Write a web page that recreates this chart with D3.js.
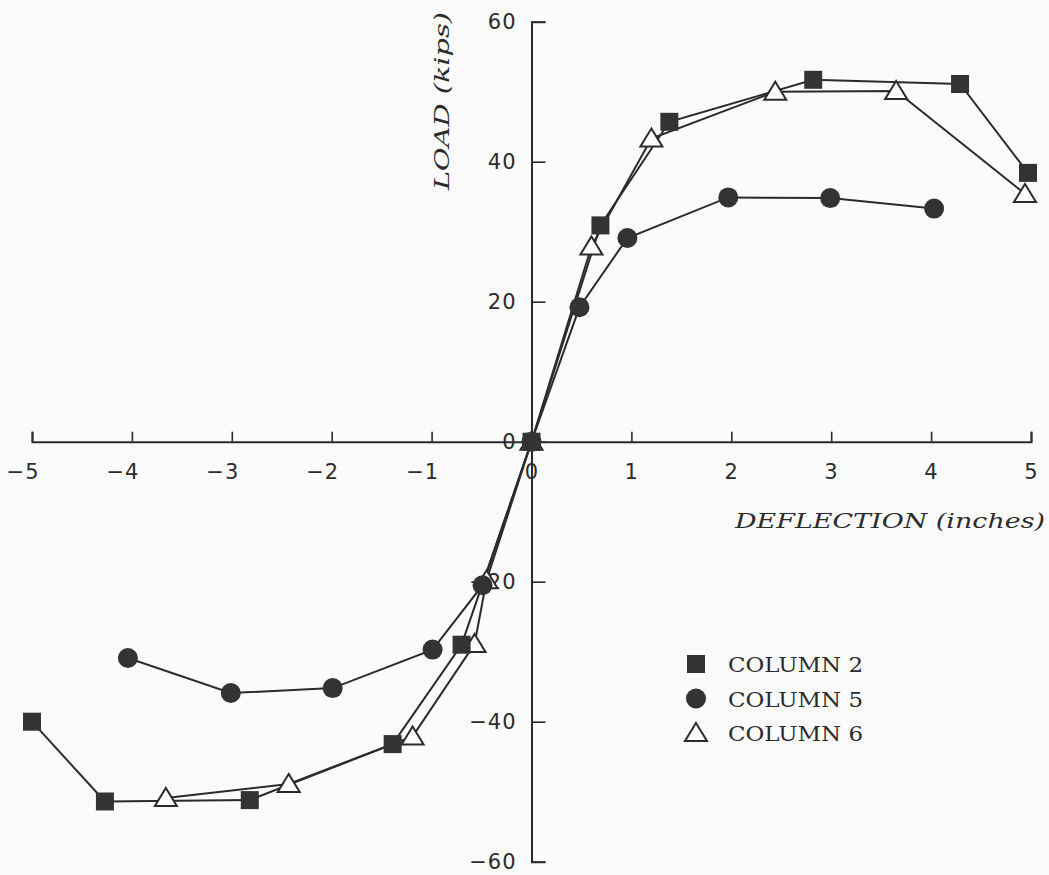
<!DOCTYPE html>
<html><head><meta charset="utf-8">
<script src="https://cdn.jsdelivr.net/npm/d3@7"></script>
<style>body{margin:0;background:#fbfbfb}svg{display:block}</style>
</head><body><svg id="c" width="1049" height="875"></svg>
<script>
const xTicks=[-5,-4,-3,-2,-1,0,1,2,3,4,5];
const yTicks=[-60,-40,-20,0,20,40,60];
const col2X=[-5.0,-4.27,-2.82,-1.39,-0.70,0,0.69,1.38,2.82,4.29,4.97];
const col2Y=[-40.0,-51.4,-51.2,-43.2,-29.0,0,30.9,45.7,51.7,51.1,38.4];
const col5X=[-4.04,-3.01,-1.99,-0.99,-0.49,0,0.48,0.96,1.97,2.99,4.03];
const col5Y=[-30.9,-35.9,-35.2,-29.7,-20.5,0,19.2,29.1,34.9,34.8,33.3];
const col6X=[-3.66,-2.43,-1.19,-0.57,-0.45,0,0.60,1.20,2.44,3.65,4.94];
const col6Y=[-50.9,-48.9,-42.1,-28.9,-19.8,0,27.9,43.3,50.0,50.1,35.4];
const seriesNames=["COLUMN 2","COLUMN 5","COLUMN 6"];
const xTitle="DEFLECTION (inches)";
const yTitle="LOAD (kips)";

const svg=d3.select("#c");
const x=d3.scaleLinear([-5,5],[32,1031]);
const y=d3.scaleLinear([-60,60],[861.7,21.7]);
const ink="#2b2b2b";
const fmt=d=>d<0?"\u2212"+Math.abs(d):String(d);

// X axis
const gx=svg.append("g").attr("transform",`translate(0,${y(0)})`)
  .call(d3.axisBottom(x).tickValues(xTicks).tickSizeInner(-10).tickSizeOuter(-10).tickPadding(22).tickFormat(fmt));
gx.select(".domain").attr("stroke",ink).attr("stroke-width",2);
gx.selectAll(".tick line").attr("stroke",ink).attr("stroke-width",1.6);
gx.selectAll(".tick text").attr("font-family","DejaVu Sans").attr("font-size",21).attr("fill",ink)
  .attr("text-anchor","end").attr("x",7).attr("letter-spacing",1);

// Y axis
const gy=svg.append("g").attr("transform",`translate(${x(0)},0)`)
  .call(d3.axisLeft(y).tickValues(yTicks).tickSizeInner(-14).tickSizeOuter(-14).tickPadding(15).tickFormat(fmt));
gy.select(".domain").attr("stroke",ink).attr("stroke-width",2);
gy.selectAll(".tick line").attr("stroke",ink).attr("stroke-width",1.6);
gy.selectAll(".tick text").attr("font-family","DejaVu Sans").attr("font-size",21).attr("fill",ink).attr("letter-spacing",1);

// titles
svg.append("text").attr("x",735).attr("y",528).attr("font-family","DejaVu Serif").attr("font-style","italic")
  .attr("font-size",20).attr("fill",ink).attr("textLength",310).attr("lengthAdjust","spacingAndGlyphs").text(xTitle);
svg.append("text").attr("transform","translate(449,190) rotate(-90)").attr("font-family","DejaVu Serif").attr("font-style","italic")
  .attr("font-size",20).attr("fill",ink).attr("textLength",178).attr("lengthAdjust","spacingAndGlyphs").text(yTitle);

const series=[
  {name:seriesNames[0],xs:col2X,ys:col2Y,type:"square"},
  {name:seriesNames[1],xs:col5X,ys:col5Y,type:"circle"},
  {name:seriesNames[2],xs:col6X,ys:col6Y,type:"triangle"}
];
const line=d3.line().x(d=>x(d[0])).y(d=>y(d[1]));
const plot=svg.append("g");
series.forEach(s=>{
  const pts=s.xs.map((v,i)=>[v,s.ys[i]]);
  plot.append("path").attr("d",line(pts)).attr("fill","none").attr("stroke",ink).attr("stroke-width",2);
});
function marker(g,type,cx,cy){
  if(type==="square") g.append("rect").attr("x",cx-9).attr("y",cy-9).attr("width",18).attr("height",18).attr("fill","#333");
  else if(type==="circle") g.append("circle").attr("cx",cx).attr("cy",cy).attr("r",10).attr("fill","#333");
  else {
    const p=d3.path(); p.moveTo(cx,cy-10); p.lineTo(cx+11,cy+8); p.lineTo(cx-11,cy+8); p.closePath();
    g.append("path").attr("d",p.toString()).attr("fill","#fff").attr("stroke",ink).attr("stroke-width",2);
  }
}
[series[2],series[0],series[1]].forEach(s=>{
  s.xs.forEach((v,i)=>marker(plot,s.type,x(v),y(s.ys[i])));
});

// legend
const leg=svg.append("g");
series.forEach((s,i)=>{
  const cy=664+i*34.5;
  marker(leg,s.type,696,cy);
  leg.append("text").attr("x",728).attr("y",cy+8).attr("font-family","DejaVu Serif").attr("font-size",21)
    .attr("fill",ink).attr("textLength",135).attr("lengthAdjust","spacingAndGlyphs").text(s.name);
});
</script></body></html>
